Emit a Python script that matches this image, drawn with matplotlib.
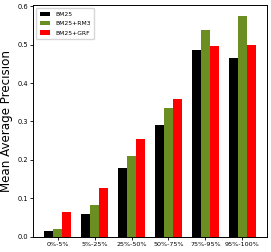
import matplotlib
matplotlib.use("Agg")
import matplotlib.pyplot as plt
import numpy as np

categories = ['0%-5%', '5%-25%', '25%-50%', '50%-75%', '75%-95%', '95%-100%']
bm25 = [0.016, 0.059, 0.178, 0.291, 0.485, 0.465]
bm25_rm3 = [0.020, 0.083, 0.210, 0.335, 0.537, 0.574]
bm25_grf = [0.064, 0.127, 0.254, 0.358, 0.495, 0.498]

series = [('BM25', bm25, 'black'),
          ('BM25+RM3', bm25_rm3, 'olivedrab'),
          ('BM25+GRF', bm25_grf, 'red')]

fig = plt.figure(figsize=(2.71, 2.52), dpi=100)
ax = fig.add_axes([0.122, 0.06, 0.863, 0.92])

x = np.arange(len(categories))
width = 0.25
for i, (label, vals, color) in enumerate(series):
    ax.bar(x + (i - 1) * width, vals, width, color=color, label=label)

ax.set_xticks(x)
ax.set_xticklabels(categories, fontsize=4.6)
ax.tick_params(axis='y', labelsize=4.8)
ax.tick_params(length=2, width=0.6, pad=1.5)
for s in ax.spines.values():
    s.set_linewidth(0.7)
ax.set_ylabel('Mean Average Precision', fontsize=8.6, labelpad=3)
ax.legend(loc='upper left', fontsize=4.3, handlelength=1.8, borderpad=0.6,
          labelspacing=0.7, frameon=True)

fig.savefig('out.png', dpi=100)
